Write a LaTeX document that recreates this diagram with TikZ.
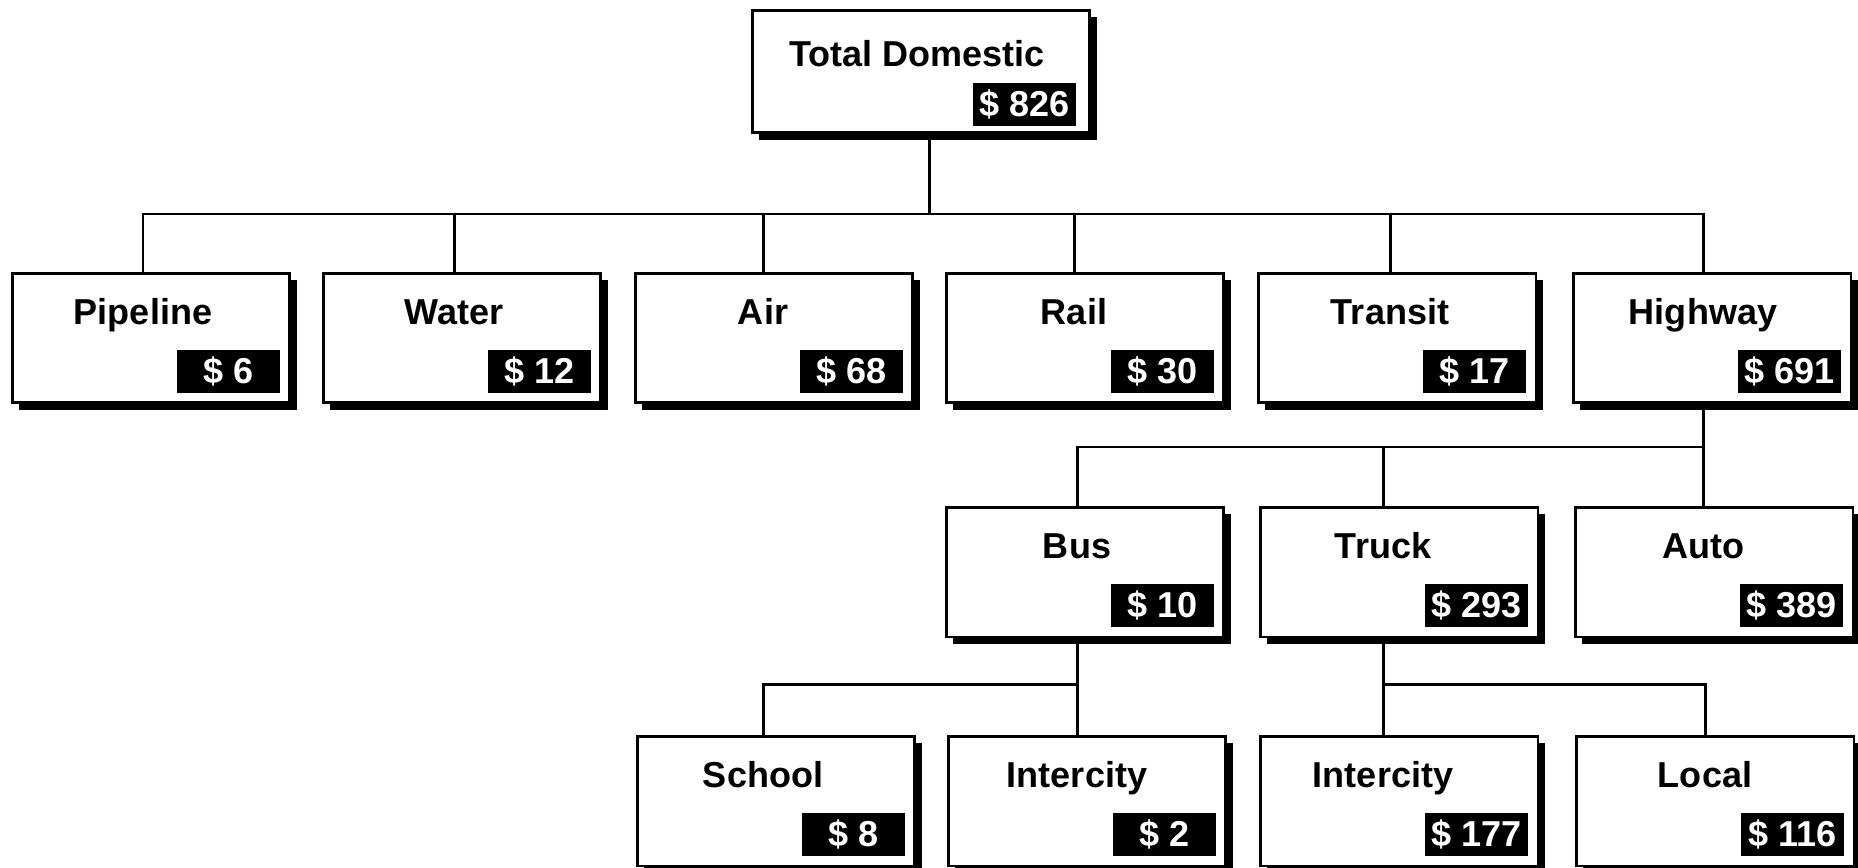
\documentclass[tikz,border=0pt]{standalone}
\usepackage{fontspec}
\setmainfont{Liberation Sans}
\usetikzlibrary{shadows}

\tikzset{
  tbox/.style={draw, line width=1.7pt, fill=white, inner sep=0pt,
    minimum width=5.56cm, minimum height=2.6cm,
    drop shadow={shadow xshift=0.14cm, shadow yshift=-0.14cm, fill=black, opacity=1}},
  ttl/.style={anchor=base, inner sep=0pt, font=\fontsize{20.5}{24}\selectfont\bfseries},
  amt/.style={anchor=south east, fill=black, text=white, inner sep=1pt,
    minimum width=2.06cm, minimum height=0.86cm, font=\fontsize{20.5}{24}\selectfont\bfseries},
  link/.style={line width=1.7pt}
}

% name, left, top, x of the connector, title, amount
\newcommand{\modebox}[6]{%
  \node[tbox] (#1) at (#2+139,#3+65) {};
  \node[ttl] (#1-t) at (#4,#3+51) {#5};
  \node[amt] (#1-a) at ([xshift=-0.22cm,yshift=0.22cm]#1.south east) {\$ #6};
}

\begin{document}
\begin{tikzpicture}[x=0.02cm, y=-0.02cm]
\useasboundingbox (0,0) rectangle (1858,868);
\clip (0,0) rectangle (1858,868);

% top
\node[tbox, minimum width=6.76cm, minimum height=2.46cm] (total) at (921,71.5) {};
\node[ttl] (total-t) at (917,67) {Total Domestic};
\node[amt] (total-a) at ([xshift=-0.3cm,yshift=0.16cm]total.south east) {\$ 826};

% modes
\modebox{pipe}{12}{273}{143}{Pipeline}{6}
\modebox{water}{323}{273}{454}{Water}{12}
\modebox{air}{635}{273}{763}{Air}{68}
\modebox{rail}{946}{273}{1074}{Rail}{30}
\modebox{transit}{1258}{273}{1390}{Transit}{17}
\modebox{hwy}{1573}{273}{1703}{Highway}{691}

% highway
\modebox{bus}{946}{507}{1077}{Bus}{10}
\modebox{truck}{1260}{507}{1383}{Truck}{293}
\modebox{auto}{1575}{507}{1703}{Auto}{389}

% bus and truck
\modebox{school}{637}{736}{763}{School}{8}
\modebox{icb}{948}{736}{1077}{Intercity}{2}
\modebox{ict}{1260}{736}{1383}{Intercity}{177}
\modebox{local}{1576}{736}{1705}{Local}{116}

\coordinate (j0) at (929,214);
\coordinate (j1) at (1703,447);
\coordinate (j2) at (1077,684);
\coordinate (j3) at (1383,684);

\draw[link] (total.south -| j0) -- (j0);
\draw[link] (pipe.north -| pipe-t) |- (j0) -| (hwy.north -| hwy-t);
\foreach \m in {water,air,rail,transit}
  \draw[link] (\m.north -| \m-t) -- (\m-t |- j0);

\draw[link] (hwy.south -| hwy-t) -- (j1);
\draw[link] (bus.north -| bus-t) |- (j1) -- (auto.north -| auto-t);
\draw[link] (truck.north -| truck-t) -- (truck-t |- j1);

\draw[link] (bus.south -| bus-t) -- (j2);
\draw[link] (school.north -| school-t) |- (j2) -- (icb.north -| icb-t);
\draw[link] (truck.south -| truck-t) -- (ict.north -| ict-t);
\draw[link] (j3) -| (local.north -| local-t);

\end{tikzpicture}
\end{document}
